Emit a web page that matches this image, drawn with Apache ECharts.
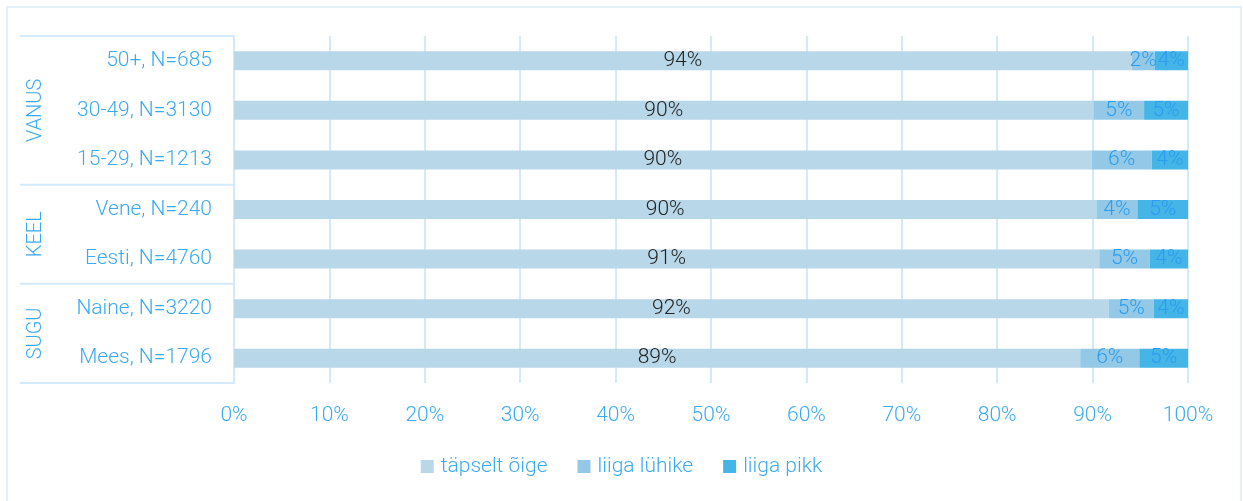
<!DOCTYPE html>
<html><head><meta charset="utf-8">
<script src="https://cdn.jsdelivr.net/npm/echarts@6/dist/echarts.min.js"></script>
<style>html,body{margin:0;padding:0;background:#fff}#c{width:1243px;height:501px}</style>
</head><body><div id="c"></div>
<script>
const categories = ['Mees, N=1796','Naine, N=3220','Eesti, N=4760','Vene, N=240','15-29, N=1213','30-49, N=3130','50+, N=685'];
const groups = [{name:'SUGU', from:0, to:1},{name:'KEEL', from:2, to:3},{name:'VANUS', from:4, to:6}];
const seriesNames = ['täpselt õige','liiga lühike','liiga pikk'];
const exact = [88.7, 91.7, 90.7, 90.4, 89.9, 90.1, 94.1];
const tooShort = [6.2, 4.7, 5.3, 4.3, 6.3, 5.3, 2.4];
const tooLong = [5.1, 3.6, 4.0, 5.3, 3.8, 4.6, 3.5];
const xTicks = [0,10,20,30,40,50,60,70,80,90,100];

const FONT = 'Roboto';
const BLUE = '#3aaaf2';
const LINE = '#d3eafb';
const colors = ['#b8d8ea','#93c8e6','#45b4e6'];
const labelColors = ['#222222', '#2a9df0', '#2a9df0'];
const FS = 21;

const chart = echarts.init(document.getElementById('c'));
const data = [exact, tooShort, tooLong];
const option = {
  animation: false,
  textStyle: {fontFamily: FONT},
  grid: {left: 234, top: 36, width: 954, height: 347, containLabel: false},
  legend: {
    data: seriesNames, bottom: 19, left: 'center', icon: 'rect', itemWidth: 13, itemHeight: 13, itemGap: 30,
    textStyle: {color: BLUE, fontSize: FS, fontWeight: 300, fontFamily: FONT, padding: [0, 0, 0, 2]}
  },
  xAxis: {
    type: 'value', min: xTicks[0], max: xTicks[xTicks.length - 1], interval: xTicks[1] - xTicks[0],
    axisLine: {show: false}, axisTick: {show: false},
    splitLine: {show: true, lineStyle: {color: LINE, width: 2}},
    axisLabel: {color: BLUE, fontSize: FS, fontWeight: 300, margin: 22, formatter: v => v + '%'}
  },
  yAxis: {
    type: 'category', data: categories,
    axisLine: {show: true, lineStyle: {color: LINE, width: 2}},
    axisTick: {show: false},
    axisLabel: {color: BLUE, fontSize: FS, fontWeight: 300, margin: 22}
  },
  series: data.map((d, i) => ({
    name: seriesNames[i], type: 'bar', stack: 'total', barWidth: 19,
    itemStyle: {color: colors[i]},
    label: {show: true, position: 'inside', color: labelColors[i], fontSize: FS, fontWeight: 300, fontFamily: FONT,
      formatter: p => Math.round(p.value) + '%'},
    data: d
  }))
};
chart.setOption(option);

// decorative table lines and group labels, positioned via axis conversion
const els = [];
const band = 347 / categories.length;
const yTop = chart.convertToPixel({yAxisIndex: 0}, categories[categories.length - 1]) - band / 2;
const xAxisPix = chart.convertToPixel({xAxisIndex: 0}, 0);
const boxLeft = 20;
els.push({type: 'line', shape: {x1: boxLeft, y1: yTop, x2: xAxisPix, y2: yTop}, style: {stroke: LINE, lineWidth: 2}, silent: true});
groups.forEach(g => {
  const y1 = chart.convertToPixel({yAxisIndex: 0}, categories[g.from]) + band / 2;
  const y2 = chart.convertToPixel({yAxisIndex: 0}, categories[g.to]) - band / 2;
  els.push({type: 'line', shape: {x1: boxLeft, y1: y1, x2: xAxisPix, y2: y1}, style: {stroke: LINE, lineWidth: 2}, silent: true});
  els.push({type: 'text', x: 36, y: (y1 + y2) / 2, rotation: Math.PI / 2,
    style: {text: g.name, fill: BLUE, font: '300 20px ' + FONT, align: 'center', verticalAlign: 'middle'}, silent: true});
});
els.push({type: 'rect', shape: {x: 7, y: 7, width: 1234, height: 520}, style: {fill: 'none', stroke: '#dcedf8', lineWidth: 1.5}, silent: true, z: -1});
chart.setOption({graphic: {elements: els}});
</script></body></html>
